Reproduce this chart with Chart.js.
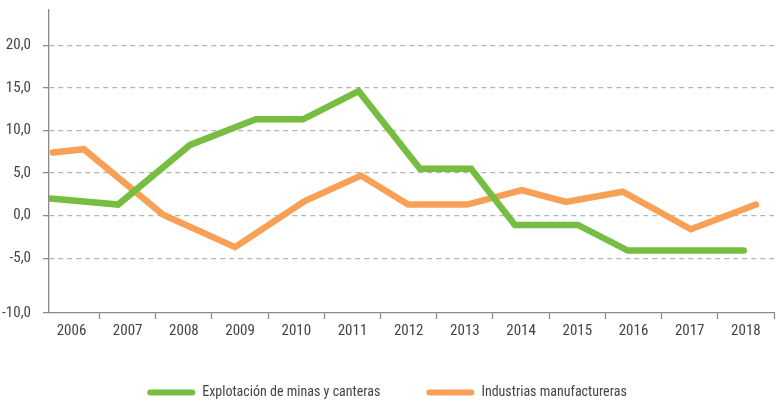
<!DOCTYPE html>
<html>
<head>
<meta charset="utf-8">
<script src="https://cdn.jsdelivr.net/npm/chart.js@4"></script>
<style>
  html, body { margin: 0; padding: 0; background: #fff; }
  #wrap { width: 777px; height: 401px; }
</style>
</head>
<body>
<div id="wrap"><canvas id="chart"></canvas></div>
<script>
// years on the x axis
const years = [2006, 2007, 2008, 2009, 2010, 2011, 2012, 2013, 2014, 2015, 2016, 2017, 2018];

// Explotación de minas y canteras (points sit at fractional year positions in the original)
const minasPos = [2005.62, 2006.83, 2008.11, 2009.28, 2010.12, 2011.11, 2012.2, 2013.11, 2013.89, 2015.01, 2015.9, 2016.97, 2017.96];
const minasVals = [2.0, 1.3, 8.3, 11.3, 11.3, 14.6, 5.5, 5.5, -1.1, -1.1, -4.1, -4.1, -4.1];

// Industrias manufactureras
const manufPos = [2005.67, 2006.22, 2007.63, 2008.91, 2010.15, 2011.15, 2011.99, 2013.04, 2014.01, 2014.8, 2015.81, 2017.02, 2018.18];
const manufVals = [7.4, 7.8, 0.1, -3.7, 1.7, 4.7, 1.3, 1.3, 3.0, 1.6, 2.8, -1.6, 1.3];

// y axis ticks (bottom one is the axis itself, labelled -10,0)
const yMin = -11.43;
const yMax = 24.13;
const yTicks = [-5, 0, 5, 10, 15, 20];

const FONT = '"Liberation Sans Narrow", "Roboto Condensed", Roboto, sans-serif';
const GREEN = '#76bd42';
const ORANGE = '#f9a057';

function toPoints(xs, ys) {
    return xs.map((x, i) => ({ x: x, y: ys[i] }));
}

const ctx = document.getElementById('chart');
new Chart(ctx, {
    type: 'line',
    data: {
        datasets: [
            {
                label: 'Explotación de minas y canteras',
                data: toPoints(minasPos, minasVals),
                borderColor: GREEN,
                backgroundColor: GREEN,
                borderWidth: 6.5,
                borderCapStyle: 'round',
                borderJoinStyle: 'miter',
                pointRadius: 0,
                tension: 0
            },
            {
                label: 'Industrias manufactureras',
                data: toPoints(manufPos, manufVals),
                borderColor: ORANGE,
                backgroundColor: ORANGE,
                borderWidth: 6.5,
                borderCapStyle: 'round',
                borderJoinStyle: 'miter',
                pointRadius: 0,
                tension: 0
            }
        ]
    },
    options: {
        responsive: true,
        maintainAspectRatio: false,
        animation: false,
        layout: {
            padding: { top: 10, right: 3, left: 0, bottom: -8.5 }
        },
        plugins: {
            tooltip: { enabled: false },
            legend: {
                position: 'bottom',
                labels: {
                    boxWidth: 48,
                    boxHeight: 6,
                    padding: 46,
                    color: '#444',
                    useBorderRadius: true,
                    borderRadius: 3,
                    font: { family: FONT, size: 14 },
                    generateLabels: function(chart) {
                        const items = Chart.defaults.plugins.legend.labels.generateLabels(chart);
                        items.forEach(item => {
                            item.lineWidth = 0;
                            item.fillStyle = item.strokeStyle;
                        });
                        return items;
                    }
                }
            }
        },
        scales: {
            x: {
                type: 'linear',
                min: 2005.6,
                max: 2018.5,
                afterBuildTicks: function(scale) {
                    const t = [];
                    years.forEach(y => { t.push({ value: y }); t.push({ value: y + 0.5 }); });
                    scale.ticks = t;
                },
                afterFit: function(scale) {
                    scale.height = 26.5;
                    scale.paddingLeft = 0;
                    scale.paddingRight = 0;
                },
                grid: {
                    drawOnChartArea: false,
                    drawTicks: true,
                    tickLength: 6,
                    tickColor: c => Number.isInteger(c.tick.value) ? 'rgba(0,0,0,0)' : '#8a8a8a',
                    tickWidth: 1.3
                },
                border: { color: '#8a8a8a', width: 1.3 },
                ticks: {
                    autoSkip: false,
                    maxRotation: 0,
                    padding: 3,
                    color: '#444',
                    font: { family: FONT, size: 15 },
                    callback: v => Number.isInteger(v) ? String(v) : ''
                }
            },
            y: {
                min: yMin,
                max: yMax,
                afterBuildTicks: function(scale) {
                    scale.ticks = [{ value: yMin }].concat(yTicks.map(v => ({ value: v })));
                },
                afterFit: function(scale) {
                    scale.width = 49;
                    scale.paddingTop = 0;
                    scale.paddingBottom = 0;
                },
                grid: {
                    color: c => c.tick && c.tick.value === yMin ? 'rgba(0,0,0,0)' : '#b4b4b4',
                    lineWidth: 1.3,
                    tickLength: 6,
                    tickColor: '#8a8a8a',
                    tickWidth: 1.3
                },
                border: { color: '#8a8a8a', width: 1.3, dash: [5, 4] },
                ticks: {
                    padding: 12,
                    color: '#444',
                    font: { family: FONT, size: 15 },
                    callback: v => v === yMin ? '-10,0' : v.toFixed(1).replace('.', ',')
                }
            }
        }
    }
});
</script>
</body>
</html>
